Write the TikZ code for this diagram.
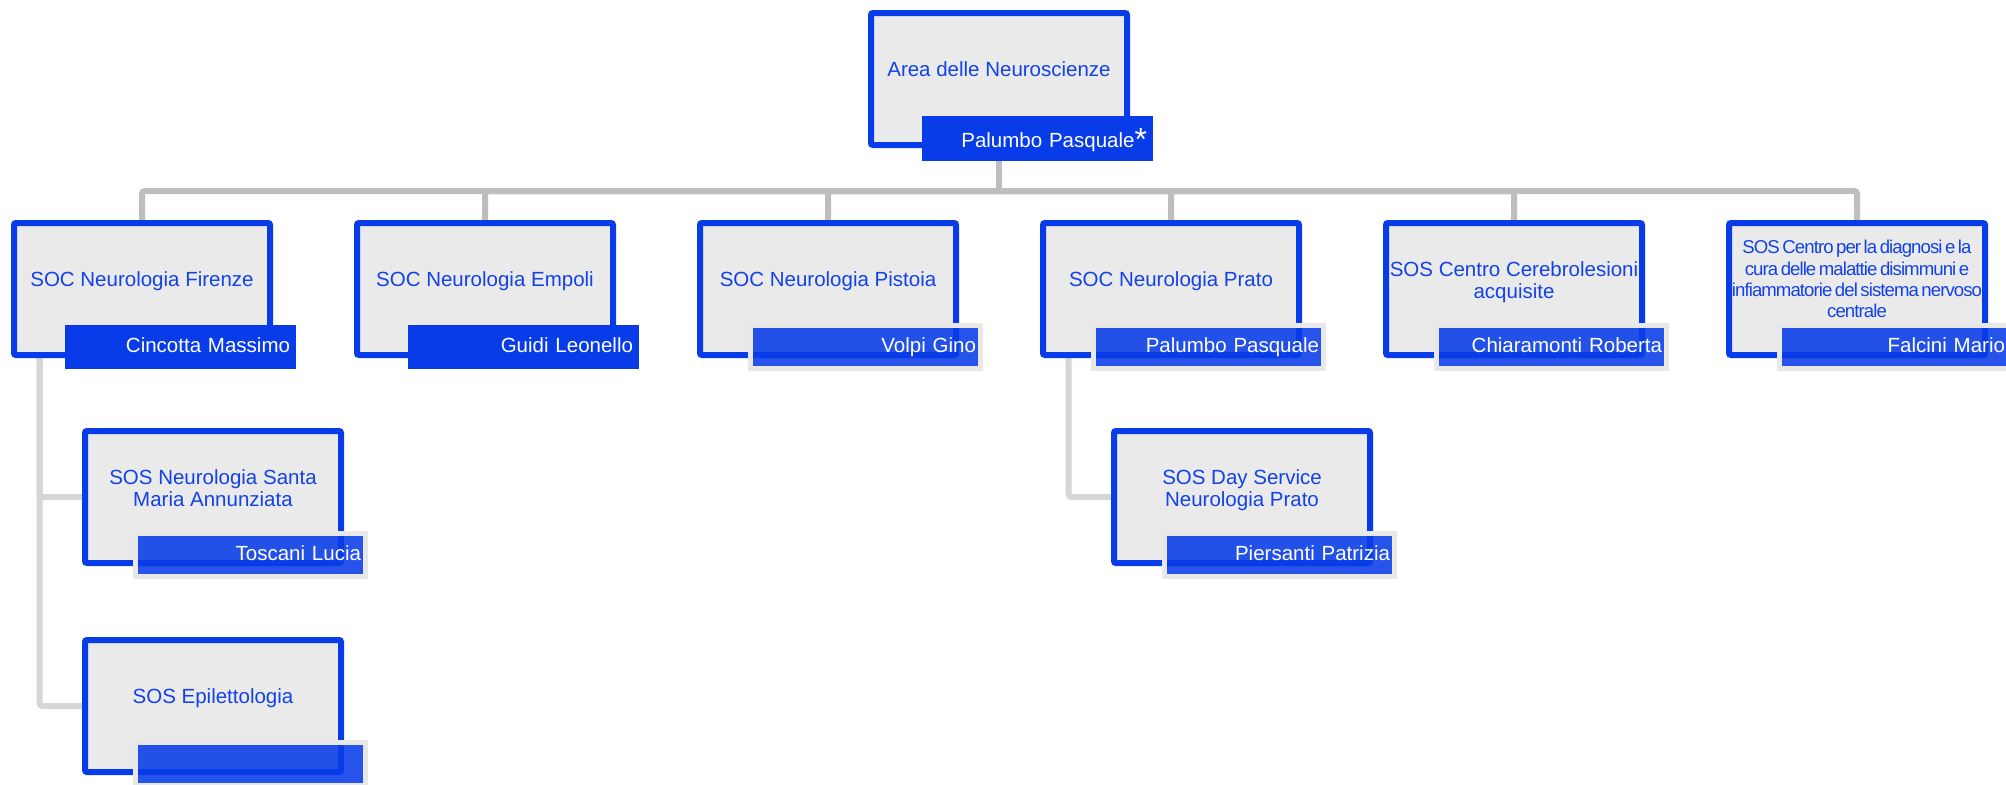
\documentclass[tikz,border=0pt]{standalone}
\usepackage{fontspec}
\setmainfont{Liberation Sans}
\newfontfamily\narrowfont{Liberation Sans}[LetterSpace=-5.0, WordSpace=0.6]
\pgfdeclarelayer{background}
\pgfsetlayers{background,main}

\definecolor{unitblue}{RGB}{8,60,232}
\definecolor{labelblue}{RGB}{18,66,232}
\definecolor{unitfill}{RGB}{234,234,234}
\definecolor{haloring}{RGB}{232,232,232}
\definecolor{busgray}{RGB}{190,190,190}
\definecolor{subgray}{RGB}{214,214,214}

\tikzset{
  unit/.style={rectangle, draw=unitblue, line width=3pt, outer sep=1.5pt,
    fill=unitfill, rounded corners=1pt, minimum width=128pt,
    minimum height=66pt, inner sep=0pt, anchor=north west},
  unittext/.style={inner sep=0pt, align=center, text=labelblue, anchor=north,
    font=\fontsize{10.25pt}{10.85pt}\selectfont},
  narrowtext/.style={unittext, font=\narrowfont\fontsize{9.3pt}{10.65pt}\selectfont},
  headbar/.style={rectangle, fill=unitblue, text=white, anchor=north west,
    outer sep=0pt, inner ysep=0pt, inner xsep=3pt, text width=109.5pt,
    align=right, text height=13.85pt, text depth=8.15pt,
    font=\fontsize{10.25pt}{12pt}\selectfont},
  halobar/.style={rectangle, draw=haloring, line width=2.5pt, outer sep=1.25pt,
    fill=unitblue, fill opacity=0.88, text opacity=1, text=white,
    anchor=north west, inner ysep=0pt, inner xsep=2.25pt, text width=110.5pt,
    align=right, text height=13.6pt, text depth=7.9pt,
    font=\fontsize{10.25pt}{12pt}\selectfont},
  bus/.style={draw=busgray, line width=3pt, rounded corners=1.5pt},
  sub/.style={draw=subgray, line width=3pt, rounded corners=1.5pt},
}

\begin{document}
\begin{tikzpicture}[x=0.5pt, y=-0.5pt]
\useasboundingbox (0,0) rectangle (2006,784);

% top unit
\node[unit] (area) at (868,10) {};
\node[unittext] (area-t) at ([yshift=-25.8pt]area.north) {Area delle Neuroscienze};
\node[headbar, text height=15.85pt, text depth=6.65pt] (area-h)
  at ([xshift=27pt,yshift=-53pt]area.north west)
  {Palumbo Pasquale\raisebox{-1.25pt}{\fontsize{16pt}{16pt}\selectfont *}};

% first level
\node[unit] (fir) at (11,220) {};
\node[unittext] (fir-t) at ([yshift=-25.8pt]fir.north) {SOC Neurologia Firenze};
\node[headbar] (fir-h) at ([xshift=27pt,yshift=-52.5pt]fir.north west) {Cincotta Massimo};

\node[unit] (emp) at (354,220) {};
\node[unittext] (emp-t) at ([yshift=-25.8pt]emp.north) {SOC Neurologia Empoli};
\node[headbar] (emp-h) at ([xshift=27pt,yshift=-52.5pt]emp.north west) {Guidi Leonello};

\node[unit] (pis) at (697,220) {};
\node[unittext] (pis-t) at ([yshift=-25.8pt]pis.north) {SOC Neurologia Pistoia};
\node[halobar] (pis-h) at ([xshift=25.5pt,yshift=-51.5pt]pis.north west) {Volpi Gino};

\node[unit] (pra) at (1040,220) {};
\node[unittext] (pra-t) at ([yshift=-25.8pt]pra.north) {SOC Neurologia Prato};
\node[halobar] (pra-h) at ([xshift=25.5pt,yshift=-51.5pt]pra.north west) {Palumbo Pasquale};

\node[unit] (cer) at (1383,220) {};
\node[unittext] (cer-t) at ([yshift=-20.75pt]cer.north) {SOS Centro Cerebrolesioni\\acquisite};
\node[halobar] (cer-h) at ([xshift=25.5pt,yshift=-51.5pt]cer.north west) {Chiaramonti Roberta};

\node[unit] (dis) at (1726,220) {};
\node[narrowtext] (dis-t) at ([yshift=-10pt]dis.north)
  {SOS Centro per la diagnosi e la\\cura delle malattie disimmuni e\\infiammatorie del sistema nervoso\\centrale};
\node[halobar] (dis-h) at ([xshift=25.5pt,yshift=-51.5pt]dis.north west) {Falcini Mario};

% second level
\node[unit] (sma) at (82,428) {};
\node[unittext] (sma-t) at ([yshift=-20.75pt]sma.north) {SOS Neurologia Santa\\Maria Annunziata};
\node[halobar] (sma-h) at ([xshift=25.5pt,yshift=-51.5pt]sma.north west) {Toscani Lucia};

\node[unit] (epi) at (82,637) {};
\node[unittext] (epi-t) at ([yshift=-25.8pt]epi.north) {SOS Epilettologia};
\node[halobar] (epi-h) at ([xshift=25.5pt,yshift=-51.5pt]epi.north west) {};

\node[unit] (dsp) at (1111,428) {};
\node[unittext] (dsp-t) at ([yshift=-20.75pt]dsp.north) {SOS Day Service\\Neurologia Prato};
\node[halobar] (dsp-h) at ([xshift=25.5pt,yshift=-51.5pt]dsp.north west) {Piersanti Patrizia};

% connectors
\coordinate (busjoin) at ([yshift=-21.5pt]area.south);
\coordinate (fir-sub) at ([xshift=14.25pt]fir.south west);
\coordinate (pra-sub) at ([xshift=14.25pt]pra.south west);

\begin{pgfonlayer}{background}
  \fill[white] (0,0) rectangle (2006,784);
  \draw[bus] (area.south) -- (busjoin);
  \foreach \u in {fir,emp,pis,pra,cer,dis}
    \draw[bus] (busjoin) -| (\u.north);
  \draw[sub] (fir-sub) |- (sma.west);
  \draw[sub] (fir-sub) |- (epi.west);
  \draw[sub] (pra-sub) |- (dsp.west);
\end{pgfonlayer}
\end{tikzpicture}
\end{document}
